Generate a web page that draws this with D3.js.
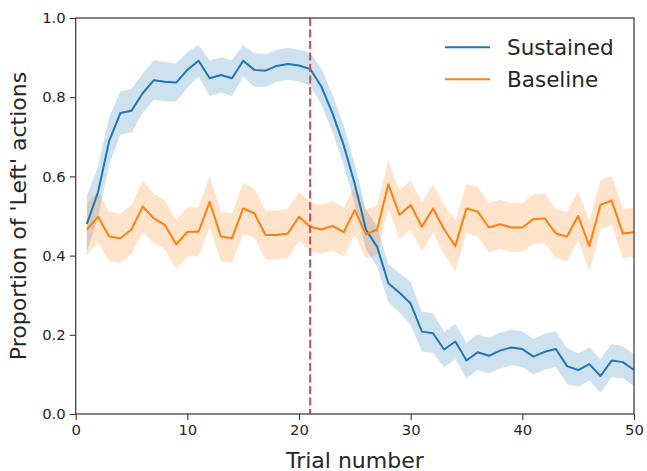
<!DOCTYPE html>
<html><head><meta charset="utf-8">
<script src="https://cdn.jsdelivr.net/npm/d3@7"></script>
<style>body{margin:0;background:#fff;}svg{display:block;font-family:"DejaVu Sans",sans-serif;}</style>
</head><body>
<svg id="chart" width="647" height="471"></svg>
<script>
const trials = [1,2,3,4,5,6,7,8,9,10,11,12,13,14,15,16,17,18,19,20,21,22,23,24,25,26,27,28,29,30,31,32,33,34,35,36,37,38,39,40,41,42,43,44,45,46,47,48,49,50];
const sustained = [0.48,0.56,0.69,0.76,0.766,0.81,0.843,0.839,0.837,0.869,0.892,0.848,0.856,0.848,0.892,0.869,0.867,0.879,0.884,0.88,0.871,0.827,0.759,0.679,0.58,0.465,0.422,0.33,0.306,0.279,0.208,0.204,0.163,0.183,0.135,0.156,0.147,0.16,0.168,0.164,0.145,0.157,0.164,0.121,0.111,0.126,0.096,0.135,0.131,0.111];
const sustainedErr = [0.07,0.065,0.06,0.055,0.055,0.05,0.05,0.05,0.048,0.045,0.04,0.045,0.045,0.045,0.04,0.042,0.042,0.04,0.04,0.04,0.042,0.045,0.048,0.05,0.05,0.05,0.05,0.048,0.05,0.055,0.05,0.05,0.045,0.045,0.045,0.045,0.045,0.045,0.045,0.045,0.045,0.045,0.045,0.045,0.042,0.042,0.042,0.042,0.04,0.04];
const baseline = [0.466,0.498,0.448,0.444,0.466,0.524,0.494,0.477,0.428,0.46,0.46,0.536,0.448,0.444,0.519,0.507,0.452,0.452,0.456,0.498,0.473,0.466,0.475,0.459,0.515,0.454,0.466,0.58,0.503,0.528,0.473,0.519,0.466,0.424,0.519,0.511,0.471,0.479,0.471,0.471,0.492,0.494,0.456,0.448,0.5,0.424,0.528,0.539,0.456,0.459];
const baselineErr = [0.065,0.065,0.062,0.062,0.062,0.065,0.062,0.062,0.062,0.062,0.062,0.065,0.062,0.062,0.065,0.062,0.062,0.062,0.062,0.062,0.062,0.062,0.062,0.062,0.062,0.062,0.062,0.06,0.062,0.062,0.062,0.062,0.062,0.065,0.062,0.062,0.062,0.062,0.062,0.062,0.062,0.062,0.062,0.062,0.062,0.065,0.062,0.062,0.062,0.062];
const xTicks = [0,10,20,30,40,50];
const yTicks = [0.0,0.2,0.4,0.6,0.8,1.0];
const switchTrial = 21;
const seriesNames = ["Sustained","Baseline"];
const seriesColors = ["#1f77b4","#ff7f0e"];

const svg = d3.select("#chart");
const m = {left:75.7, right:634, top:18, bottom:414};
const x = d3.scaleLinear().domain([0,50]).range([m.left,m.right]);
const y = d3.scaleLinear().domain([0,1]).range([m.bottom,m.top]);

const series = [
  {name:seriesNames[0], vals:sustained, err:sustainedErr, color:seriesColors[0]},
  {name:seriesNames[1], vals:baseline, err:baselineErr, color:seriesColors[1]}
];

const area = d3.area().x(d=>x(d.t)).y0(d=>y(d.v-d.e)).y1(d=>y(d.v+d.e));
const line = d3.line().x(d=>x(d.t)).y(d=>y(d.v));

const plot = svg.append("g");
series.forEach(s=>{
  const pts = trials.map((t,i)=>({t:t, v:s.vals[i], e:s.err[i]}));
  s.pts = pts;
  plot.append("path").datum(pts).attr("d",area).attr("fill",s.color).attr("fill-opacity",0.22).attr("stroke","none");
});
series.forEach(s=>{
  plot.append("path").datum(s.pts).attr("d",line).attr("fill","none").attr("stroke",s.color).attr("stroke-width",2).attr("stroke-linejoin","round");
});

// dashed line
svg.append("line").attr("x1",x(switchTrial)).attr("x2",x(switchTrial)).attr("y1",m.top).attr("y2",m.bottom)
  .attr("stroke","#c44e52").attr("stroke-width",2).attr("stroke-dasharray","8,3.5");

// axes
const xAxis = svg.append("g").attr("transform",`translate(0,${m.bottom})`)
  .call(d3.axisBottom(x).tickValues(xTicks).tickFormat(d3.format("d")).tickSize(6).tickPadding(4));
const yAxis = svg.append("g").attr("transform",`translate(${m.left},0)`)
  .call(d3.axisLeft(y).tickValues(yTicks).tickFormat(d3.format(".1f")).tickSize(6).tickPadding(4));
[xAxis,yAxis].forEach(a=>{
  a.select(".domain").remove();
  a.selectAll(".tick line").attr("stroke","#333").attr("stroke-width",1.1);
  a.selectAll(".tick text").attr("fill","#262626").style("font-size","14.8px").style("font-family","DejaVu Sans");
});

// frame
svg.append("rect").attr("x",m.left).attr("y",m.top).attr("width",m.right-m.left).attr("height",m.bottom-m.top)
  .attr("fill","none").attr("stroke","#333").attr("stroke-width",1.2);

// labels
svg.append("text").attr("x",(m.left+m.right)/2).attr("y",467.5).attr("text-anchor","middle")
  .attr("fill","#262626").style("font-size","22px").text("Trial number");
svg.append("text").attr("transform",`translate(26,${(m.top+m.bottom)/2}) rotate(-90)`).attr("text-anchor","middle")
  .attr("fill","#262626").style("font-size","22px").text("Proportion of 'Left' actions");

// legend
series.forEach((s,i)=>{
  const ly = 47.3 + i*32;
  svg.append("line").attr("x1",445).attr("x2",490).attr("y1",ly).attr("y2",ly).attr("stroke",s.color).attr("stroke-width",2);
  svg.append("text").attr("x",507).attr("y",ly+7.8).attr("fill","#262626").style("font-size","21.5px").text(s.name);
});
</script>
</body></html>
